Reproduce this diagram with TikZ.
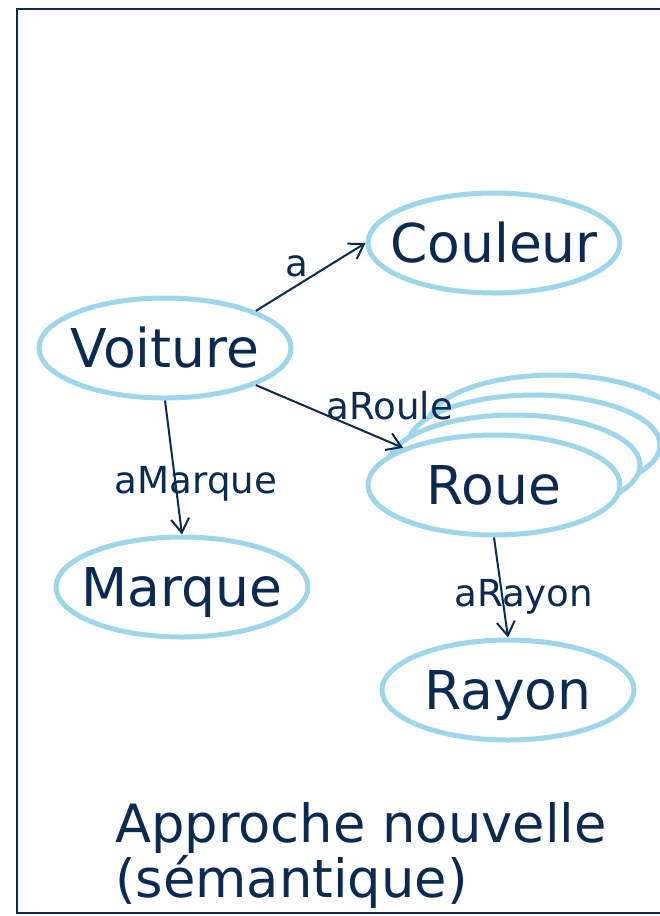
\documentclass[tikz,border=0pt]{standalone}
\usepackage{fontspec}
\setmainfont{DejaVu Sans}
\usetikzlibrary{shapes.geometric, arrows.meta, positioning}
\definecolor{navy}{HTML}{0B2A52}
\definecolor{skyline}{HTML}{9DD6EB}

\begin{document}
\begin{tikzpicture}[x=1pt, y=-1pt,
  concept/.style={ellipse, draw=skyline, line width=5pt, fill=white,
    minimum width=252pt, minimum height=100pt, inner xsep=-15pt, inner ysep=0pt,
    text=navy, font=\fontsize{53.5}{60}\selectfont, text height=39pt, text depth=0pt},
  rel/.style={draw=navy, line width=2pt, -{Straight Barb[length=14pt, width=18pt]}},
  lbl/.style={text=navy, font=\fontsize{37.2}{44}\selectfont, inner sep=0pt, text depth=0pt},
]
\useasboundingbox (0,0) rectangle (660,916);

%% Frame
\draw[navy, line width=2pt] (660,9) -- (17,9) -- (17,913) -- (660,913);

%% Concepts
\node[concept] (voiture) at (165,348) {Voiture};
\node[concept] (couleur) at (494,243) {Couleur};
\foreach \k in {3,2,1}
  \node[concept] (roue\k) at (494+20*\k, 485-20*\k) {};
\node[concept] (roue) at (494,485) {Roue};
\node[concept] (marque) at (182,587) {Marque};
\node[concept] (rayon) at (508,690) {Rayon};

%% Relations
\draw[rel] (voiture.north east) -- node[lbl, pos=0.37, yshift=20pt] {a} (couleur.west);
\draw[rel] (voiture.south east) -- node[lbl, pos=0.91, yshift=37pt] {aRoule} (roue.north west);
\draw[rel] (voiture.south) -- node[lbl, pos=0.59, xshift=21pt] {aMarque} (marque.north);
\draw[rel] (roue.south) -- node[lbl, pos=0.55, xshift=22pt] {aRayon} (rayon.north);

%% Caption
\node[text=navy, font=\fontsize{52.7}{50}\selectfont, align=left, anchor=base west, inner sep=0pt]
  (titre) at (115,897) {Approche nouvelle\\(sémantique)};

\end{tikzpicture}
\end{document}
